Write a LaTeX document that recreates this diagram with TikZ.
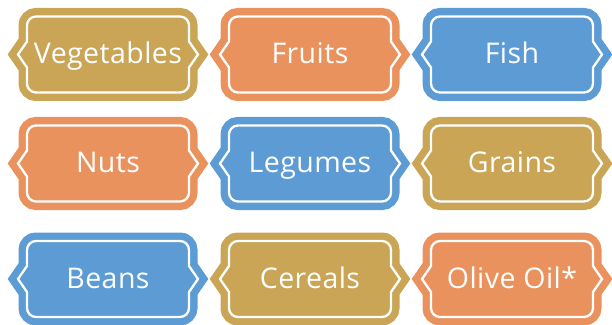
\documentclass[tikz,border=0pt]{standalone}
\usepackage{fontspec}
\setmainfont{Open Sans}[LetterSpace=1.5]
\definecolor{cgold}{HTML}{C9A555}
\definecolor{corange}{HTML}{EA925E}
\definecolor{cblue}{HTML}{5C9BD4}
\newcommand\plaquepath{%
  (-72,38) -- (72,38) arc[start angle=90,end angle=0,radius=9]
  -- (81,13) -- (90,0) -- (81,-13) -- (81,-29)
  arc[start angle=0,end angle=-90,radius=9]
  -- (-72,-38) arc[start angle=270,end angle=180,radius=9]
  -- (-81,-13) -- (-90,0) -- (-81,13) -- (-81,29)
  arc[start angle=180,end angle=90,radius=9] -- cycle}
\tikzset{
  plaquebody/.style={line width=17pt, draw=#1, fill=#1, line join=miter, miter limit=10},
  plaqueline/.style={draw=white, line width=2.3pt},
  plaquetext/.style={text=white, font=\fontsize{28.5}{32}\selectfont, anchor=base, inner sep=0pt}
}
\begin{document}
\begin{tikzpicture}[x=1pt,y=1pt]
\useasboundingbox (0,0) rectangle (612,324);
\foreach \nm/\cx/\cy/\col/\txt in {
  veg/108/269.5/cgold/Vegetables,
  fru/310/269.5/corange/Fruits,
  fis/512/269.5/cblue/Fish,
  nut/108/160.5/corange/Nuts,
  leg/310/160.5/cblue/Legumes,
  gra/512/160.5/cgold/Grains,
  bea/108/45/cblue/Beans,
  cer/310/45/cgold/Cereals,
  oli/512/45/corange/Olive Oil*}{
  \begin{scope}[shift={(\cx,\cy)}]
    \path[plaquebody=\col] \plaquepath;
    \path[plaqueline] \plaquepath;
  \end{scope}
  \node[plaquetext] (\nm) at (\cx,\cy-9.5) {\txt};
}
\end{tikzpicture}
\end{document}
